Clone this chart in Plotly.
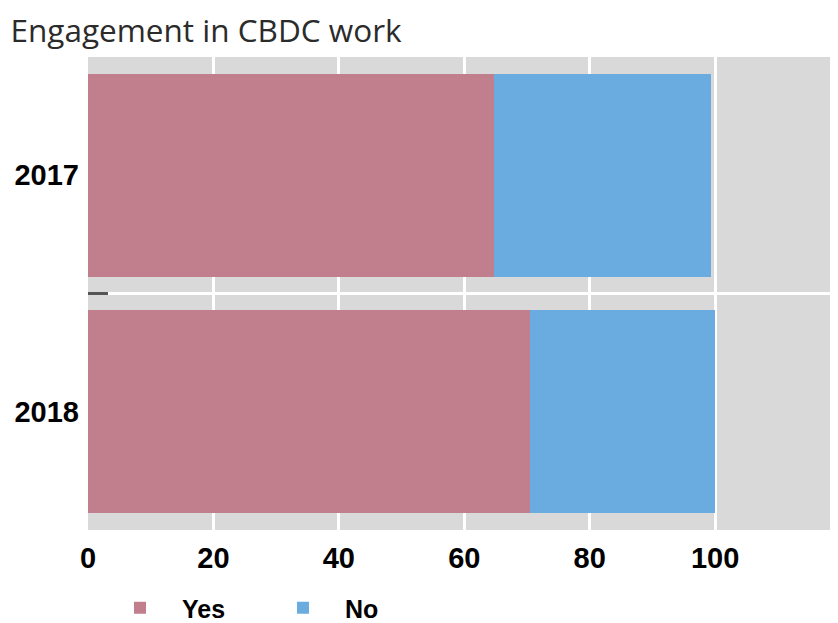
import plotly.graph_objects as go

years = ["2017", "2018"]
yes_vals = [64.7, 70.5]
no_vals = [34.6, 29.5]
series_names = ["Yes", "No"]
x_ticks = [0, 20, 40, 60, 80, 100]

colors = {"Yes": "#C17E8C", "No": "#6AACDF"}
label_font = dict(family="Liberation Sans", size=29, color="black", weight="bold")

fig = go.Figure()
for name, vals in zip(series_names, [yes_vals, no_vals]):
    fig.add_trace(go.Bar(
        y=years, x=vals, name=name, orientation="h",
        marker=dict(color=colors[name], line=dict(width=0)),
        width=0.86,
    ))

fig.update_layout(
    width=830, height=623,
    barmode="stack",
    paper_bgcolor="white",
    plot_bgcolor="#D9D9D9",
    margin=dict(l=80, r=0, t=49, b=101, autoexpand=False),
    title=dict(text="Engagement in CBDC work", x=0.003, xanchor="left",
               y=0.9625, yanchor="middle",
               font=dict(family="Open Sans", size=31.5, color="#2b2b2b")),
    xaxis=dict(range=[0, 119.6], tickvals=x_ticks, showgrid=True,
               gridcolor="white", gridwidth=2.5, zeroline=False,
               tickfont=label_font, ticks="", ticklabelstandoff=8),
    yaxis=dict(categoryorder="array", categoryarray=years, autorange="reversed",
               tickson="boundaries", showgrid=True, gridcolor="white", gridwidth=2.5,
               ticks="inside", ticklen=20, tickwidth=3, tickcolor="#555555",
               tickfont=label_font, ticklabelstandoff=8),
    legend=dict(orientation="h", x=0.0133, xanchor="left", yref="container", y=0.0,
                yanchor="bottom", font=dict(family="Liberation Sans", size=25, color="black", weight="bold"),
                itemwidth=74, entrywidth=74, entrywidthmode="pixels", traceorder="normal"),
    showlegend=True,
)

fig.write_html("out.html")
